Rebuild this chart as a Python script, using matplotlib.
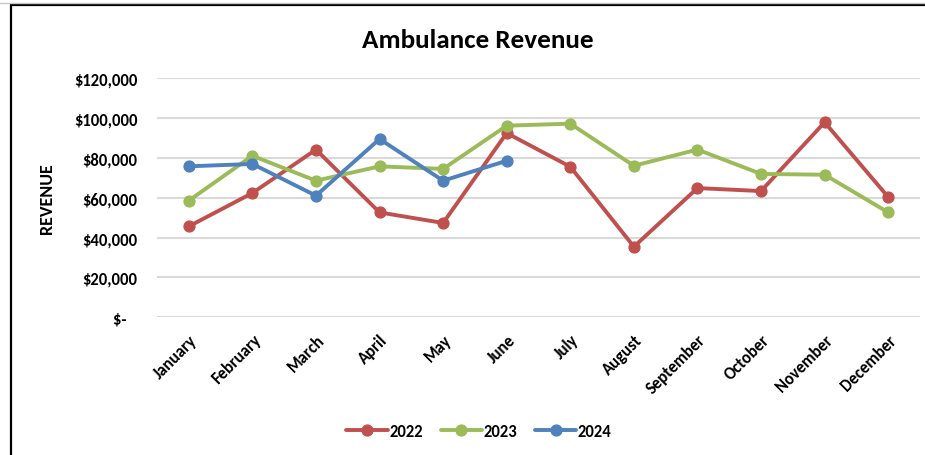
import matplotlib
matplotlib.use("Agg")
import matplotlib.pyplot as plt
from matplotlib.patches import Rectangle
from matplotlib.ticker import FuncFormatter

plt.rcParams['font.family'] = ['Carlito', 'Lato', 'DejaVu Sans']

months = ["January", "February", "March", "April", "May", "June", "July",
          "August", "September", "October", "November", "December"]
rev_2022 = [45600, 62300, 84100, 52600, 47300, 92400, 75500, 35400, 64800, 63300, 97800, 60300]
rev_2023 = [58500, 81000, 68500, 75700, 74400, 96100, 97100, 76000, 84100, 71900, 71500, 52600]
rev_2024 = [75700, 76900, 61000, 89400, 68500, 78500]
series_names = ["2022", "2023", "2024"]
colors = ["#C0504D", "#9BBB59", "#4F81BD"]

W, H = 925, 456
WEIGHT = "bold"
fig = plt.figure(figsize=(W / 100, H / 100), dpi=100)
fig.patch.set_facecolor("white")

# Chart frame (open on the right and bottom edges)
fig.add_artist(Rectangle((11 / W, -0.05), 1.2, 1.05 - 6 / H, transform=fig.transFigure,
                         fill=False, edgecolor="black", linewidth=1.6))
fig.add_artist(plt.Line2D([0, 1], [1 - 3.5 / H, 1 - 3.5 / H], transform=fig.transFigure,
                          color="#C8C8C8", linewidth=1))

ax = fig.add_axes([157 / W, 1 - 318.3 / H, (920 - 157) / W, (318.3 - 79) / H])
x = list(range(len(months)))
for vals, name, c in zip([rev_2022, rev_2023, rev_2024], series_names, colors):
    ax.plot(x[:len(vals)], vals, color=c, linewidth=2.8, marker="o", markersize=7.8,
            label=name, solid_capstyle="round", zorder=3)

ax.set_xlim(-0.5, len(months) - 0.5)
ax.set_ylim(0, 120000)
ax.set_yticks(range(0, 120001, 20000))
ax.yaxis.set_major_formatter(FuncFormatter(lambda v, p: "$-   " if v == 0 else f"${v:,.0f}"))
ax.grid(axis="y", color="#D9D9D9", linewidth=1.5, zorder=0)
for s in ax.spines.values():
    s.set_visible(False)
ax.tick_params(axis="both", length=0)
ax.tick_params(axis="y", pad=14, labelsize=12)
ax.set_xticks(x)
ax.set_xticklabels(months, rotation=45, ha="right", rotation_mode="anchor",
                   fontsize=12, fontweight=WEIGHT)
ax.tick_params(axis="x", pad=10)
for lbl in ax.get_yticklabels():
    lbl.set_fontweight(WEIGHT)

fig.text(47 / W, 1 - 199 / H, "REVENUE", rotation=90, ha="center", va="center",
         fontsize=13, fontweight=WEIGHT)
fig.text(478 / W, 1 - 40 / H, "Ambulance Revenue", ha="center", va="center",
         fontsize=19.5, fontweight=WEIGHT)

leg = fig.legend(loc="center", bbox_to_anchor=(479 / W, 1 - 432 / H), ncol=3,
                 frameon=False, handlelength=2.5, handletextpad=0.08,
                 columnspacing=1.05, prop={"weight": WEIGHT, "size": 12})

fig.savefig("out.png", dpi=100, facecolor="white")
